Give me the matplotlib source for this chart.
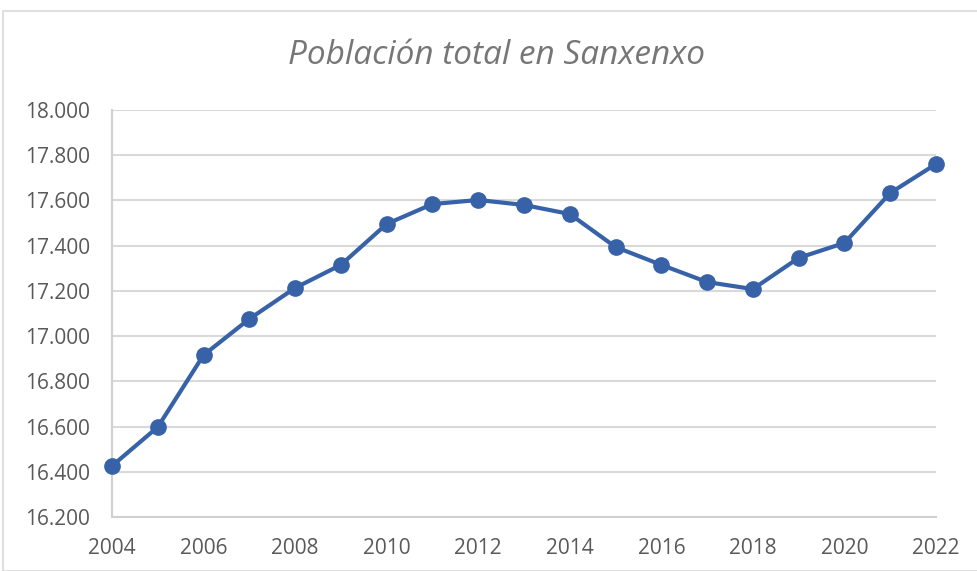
import matplotlib
matplotlib.use("Agg")
import matplotlib.pyplot as plt
from matplotlib.patches import Rectangle
from matplotlib.ticker import FuncFormatter, MultipleLocator

years = list(range(2004, 2023))
population = [16426, 16598, 16916, 17076, 17213, 17315, 17496, 17584, 17602, 17580,
              17540, 17394, 17315, 17239, 17208, 17346, 17412, 17633, 17761]
title = "Población total en Sanxenxo"

W, H = 977, 571
fig = plt.figure(figsize=(W / 100, H / 100), dpi=100)
fig.patch.set_facecolor("white")
fig.patches.append(Rectangle((3 / W, 0), 1.2, 1 - 11 / H, transform=fig.transFigure,
                             fill=False, edgecolor="#d9d9d9", linewidth=1.2))

ax = fig.add_axes([112 / W, 1 - 517 / H, (936 - 112) / W, (517 - 110) / H])
ax.plot(years, population, color="#3762a8", linewidth=3, marker="o",
        markersize=11, zorder=3, clip_on=False)
ax.set_xlim(2004, 2022)
ax.set_ylim(16200, 18000)
ax.xaxis.set_major_locator(MultipleLocator(2))
ax.yaxis.set_major_locator(MultipleLocator(200))
ax.yaxis.set_major_formatter(FuncFormatter(lambda v, p: f"{int(v):,}".replace(",", ".")))
ax.grid(axis="y", color="#d9d9d9", linewidth=1.5)
ax.set_axisbelow(True)
for s in ["top", "right"]:
    ax.spines[s].set_visible(False)
for s in ["left", "bottom"]:
    ax.spines[s].set_color("#d0d0d0")
    ax.spines[s].set_linewidth(1.5)
ax.tick_params(length=0, labelsize=15, labelcolor="#595959")
ax.tick_params(axis="x", pad=15)
ax.tick_params(axis="y", pad=16)
for lab in ax.get_xticklabels() + ax.get_yticklabels():
    lab.set_fontfamily("Open Sans")

fig.text(497 / W, 1 - 55 / H, title, ha="center", va="center", fontsize=24,
         style="italic", color="#767676", family="Open Sans")

fig.savefig("out.png", dpi=100)
